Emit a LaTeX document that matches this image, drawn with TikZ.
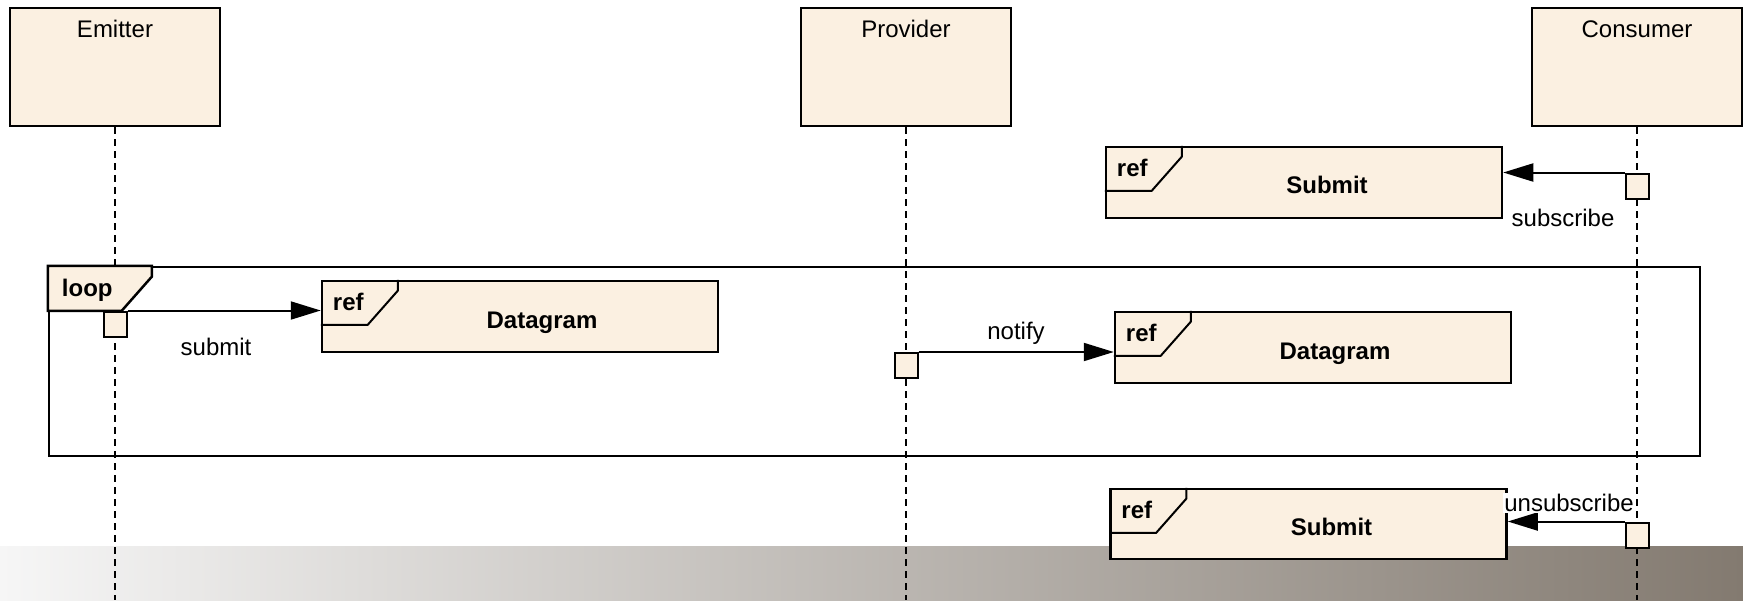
\documentclass[tikz,border=0pt]{standalone}
\usepackage{fontspec}
\setmainfont{Liberation Sans}
\usepackage{tikz}
\usetikzlibrary{positioning,arrows.meta}

\definecolor{beige}{RGB}{251,240,225}
\definecolor{bandL}{RGB}{246,246,246}
\definecolor{bandR}{RGB}{131,122,112}

\begin{document}
\begin{tikzpicture}[x=1pt,y=-1pt,
    txt/.style={font=\fontsize{24}{28}\selectfont,inner sep=0pt},
    btxt/.style={font=\fontsize{24}{28}\selectfont\bfseries,inner sep=0pt},
    lifebox/.style={draw=black,fill=beige,line width=2.5pt,minimum width=210pt,minimum height=118pt,inner sep=0pt},
    refbox/.style={draw=black,fill=beige,line width=2.5pt,minimum width=396pt,minimum height=71pt,inner sep=0pt},
    act/.style={draw=black,fill=beige,line width=2pt,minimum width=23pt,minimum height=25pt,inner sep=0pt},
    lifeline/.style={line width=1.6pt,dash pattern=on 7pt off 5pt},
    msg/.style={line width=2pt,-{Triangle[length=30pt,width=18pt]}}]
      \useasboundingbox (0,0) rectangle (1743,600);
      \shade[left color=bandL,right color=bandR] (0,546) rectangle (1743,600);
      \coordinate (floor) at (0,600);

      % lifelines
      \node[lifebox] (emitter) at (115,67) {};
      \node[lifebox] (provider) at (906,67) {};
      \node[lifebox] (consumer) at (1637,67) {};
      \node[txt,anchor=base] (emitterlbl) at ([yshift=-31pt]emitter.north) {Emitter};
      \node[txt,anchor=base] (providerlbl) at ([yshift=-31pt]provider.north) {Provider};
      \node[txt,anchor=base] (consumerlbl) at ([yshift=-31pt]consumer.north) {Consumer};

      \draw[lifeline] (emitter.south) -- (emitter.south |- floor);
      \draw[lifeline] (provider.south) -- (provider.south |- floor);
      \draw[lifeline] (consumer.south) -- (consumer.south |- floor);

      % subscribe
      \node[refbox] (sub1) at (1304,182.5) {};
      \draw[line width=2pt] (sub1.north west) ++(77,0) -- ++(0,11) -- ++(-30,34) -- ++(-47,0);
      \node[btxt,anchor=base west] (sub1ref) at ([xshift=12pt,yshift=-31pt]sub1.north west) {ref};
      \node[btxt] (sub1txt) at ([xshift=23pt,yshift=-2.5pt]sub1.center) {Submit};
      \node[act] (actC1) at (1637,186) {};
      \draw[msg] (actC1.north west) -- (sub1.east |- actC1.north west);
      \node[txt] (sublbl) at (1563,218) {subscribe};

      % loop
      \node[draw=black,line width=2.5pt,minimum width=1651pt,minimum height=189pt,inner sep=0pt] (loopfr) at (874.5,361.5) {};
      \draw[line width=2.5pt,fill=beige] (loopfr.north west) -- ++(104,0) -- ++(0,11) -- ++(-30,34) -- ++(-74,0) -- cycle;
      \node[btxt,anchor=base west] (looplbl) at ([xshift=14pt,yshift=-31pt]loopfr.north west) {loop};

      \node[refbox] (dg1) at (520,316.5) {};
      \draw[line width=2pt] (dg1.north west) ++(77,0) -- ++(0,11) -- ++(-30,34) -- ++(-47,0);
      \node[btxt,anchor=base west] (dg1ref) at ([xshift=12pt,yshift=-31pt]dg1.north west) {ref};
      \node[btxt] (dg1txt) at ([xshift=22pt,yshift=-6pt]dg1.center) {Datagram};
      \node[act] (actE) at (115,324) {};
      \draw[msg] (actE.north east) -- (dg1.west |- actE.north east);
      \node[txt] (submitlbl) at (216,347) {submit};

      \node[refbox] (dg2) at (1313,347.5) {};
      \draw[line width=2pt] (dg2.north west) ++(77,0) -- ++(0,11) -- ++(-30,34) -- ++(-47,0);
      \node[btxt,anchor=base west] (dg2ref) at ([xshift=12pt,yshift=-31pt]dg2.north west) {ref};
      \node[btxt] (dg2txt) at ([xshift=22pt,yshift=-6pt]dg2.center) {Datagram};
      \node[act] (actP) at (906,365.5) {};
      \draw[msg] (actP.north east) -- (dg2.west |- actP.north east);
      \node[txt] (notifylbl) at (1016,333) {notify};

      % unsubscribe
      \node[refbox,minimum height=70pt] (sub2) at (1308.5,524) {};
      \draw[line width=2pt] (sub2.north west) ++(77,0) -- ++(0,11) -- ++(-30,34) -- ++(-47,0);
      \node[btxt,anchor=base west] (sub2ref) at ([xshift=12pt,yshift=-31pt]sub2.north west) {ref};
      \node[btxt] (sub2txt) at ([xshift=23pt,yshift=-2.5pt]sub2.center) {Submit};
      \node[act] (actC2) at (1637,535) {};
      \draw[msg] (actC2.north west) -- (sub2.east |- actC2.north west);
      \node[txt,fill=white,inner sep=1pt] (unsublbl) at (1569,503) {unsubscribe};
\end{tikzpicture}
\end{document}
